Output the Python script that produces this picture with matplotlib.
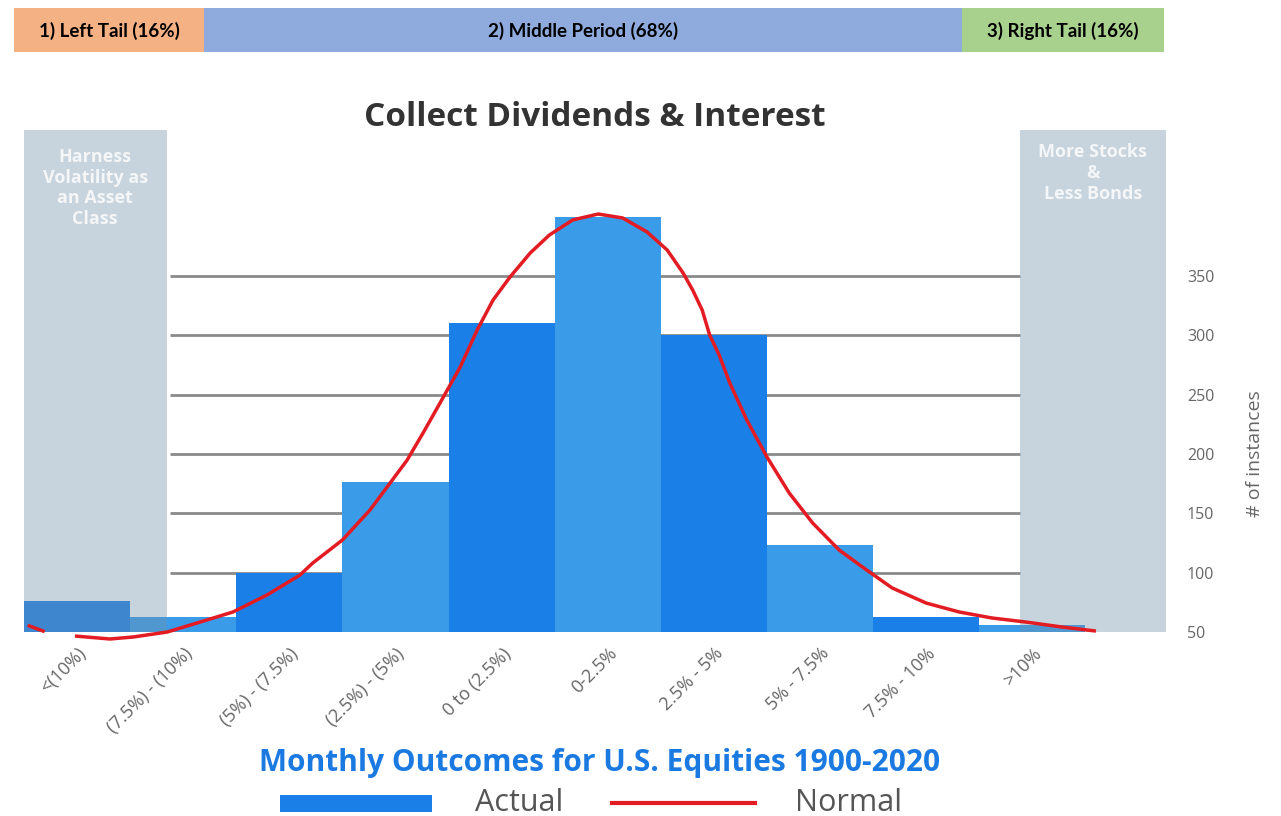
import matplotlib
matplotlib.use('Agg')
import matplotlib.pyplot as plt
from matplotlib.patches import Rectangle
from matplotlib.lines import Line2D
import numpy as np

# bucket labels and monthly counts
buckets = ['<(10%)', '(7.5%) - (10%)', '(5%) - (7.5%)', '(2.5%) - (5%)', '0 to (2.5%)',
           '0-2.5%', '2.5% - 5%', '5% - 7.5%', '7.5% - 10%', '>10%']
actual = [76, 63, 100, 176, 310, 400, 300, 123, 63, 56]

# hand-drawn "normal" curve, x in bucket units
normal_x = [-0.02, 0.31, 0.53, 0.85, 1.16, 1.47, 1.79, 2.10, 2.22, 2.50, 2.76, 2.95,
            3.11, 3.26, 3.42, 3.61, 3.77, 3.92, 4.08, 4.27, 4.45, 4.67, 4.91, 5.14,
            5.37, 5.56, 5.71, 5.80, 5.89, 5.96, 6.05, 6.15, 6.31, 6.50, 6.71, 6.93,
            7.18, 7.44, 7.68, 8.00, 8.31, 8.62, 8.94, 9.28, 9.60]
normal_y = [46.6, 44.1, 45.8, 50.0, 58.4, 66.9, 81.2, 98.0, 108.1, 127.5, 152.8, 175.6,
            194.9, 217.7, 243.0, 273.3, 304.5, 329.8, 349.2, 369.4, 384.5, 397.2, 402.2, 398.9,
            387.1, 371.9, 352.5, 338.2, 321.3, 300.3, 283.4, 259.8, 228.6, 197.5, 167.1, 141.9,
            119.1, 102.2, 87.1, 74.4, 66.9, 61.8, 58.4, 54.2, 50.8]
stub_x = [-0.45, -0.32]
stub_y = [55.1, 50.8]

yticks = [50, 100, 150, 200, 250, 300, 350]
banner = ['1) Left Tail (16%)', '2) Middle Period (68%)', '3) Right Tail (16%)']

dark_blue = '#1a7fe6'
light_blue = '#3a9be8'
red = '#e31b23'
W, H = 1281, 816

fig = plt.figure(figsize=(12.81, 8.16), dpi=100)
ax = fig.add_axes([24 / W, 1 - 632 / H, 1142 / W, 502 / H])

x = np.arange(len(buckets))
colors = [dark_blue if i % 2 == 0 else light_blue for i in range(len(buckets))]
ax.bar(x, actual, width=1.0, color=colors, zorder=2)

# gridlines only between the two grey panels
ax.hlines(yticks[1:], 0.875, 8.88, color='#8a8a8a', lw=2, zorder=1)

# grey tail panels laid over the bars
ax.axvspan(-0.5, 0.85, color='#7593aa', alpha=0.4, lw=0, zorder=3)
ax.axvspan(8.88, 10.26, color='#7593aa', alpha=0.4, lw=0, zorder=3)

ax.plot(normal_x, normal_y, color=red, lw=2.5, zorder=4, clip_on=False,
        solid_joinstyle='round', solid_capstyle='butt')
ax.plot(stub_x, stub_y, color=red, lw=2.5, zorder=4, clip_on=False)

ax.set_xlim(-0.5, 10.26)
ax.set_ylim(50, 473)
for s in ax.spines.values():
    s.set_visible(False)

ax.set_xticks(x)
ax.set_xticklabels(buckets, rotation=45, ha='right', rotation_mode='anchor',
                   color='#666666', fontsize=13, family='Open Sans')
ax.tick_params(axis='x', length=0, pad=9)

ax.yaxis.tick_right()
ax.set_yticks(yticks)
ax.set_yticklabels([str(v) for v in yticks], color='#666666', fontsize=11.5, family='Open Sans')
ax.tick_params(axis='y', length=0, pad=15)
ax.yaxis.set_label_position('right')
ax.set_ylabel('# of instances', color='#666666', fontsize=14, family='Open Sans')
ax.yaxis.set_label_coords(1.07, 0.355)

# panel captions
ax.text(0.17, 458, 'Harness\nVolatility as\nan Asset\nClass', ha='center', va='top',
        color='#f4f6f8', fontsize=13, fontweight='bold', family='Open Sans', linespacing=1.2,
        zorder=5)
ax.text(9.57, 462, 'More Stocks\n&\nLess Bonds', ha='center', va='top',
        color='#f4f6f8', fontsize=13, fontweight='bold', family='Open Sans', linespacing=1.2,
        zorder=5)

# top banner
edges = [14, 204, 962, 1164]
fills = ['#f4b183', '#8faadc', '#a9d18e']
for i, label in enumerate(banner):
    x0, x1 = edges[i] / W, edges[i + 1] / W
    fig.add_artist(Rectangle((x0, 1 - 52 / H), x1 - x0, 44 / H, transform=fig.transFigure,
                             color=fills[i], lw=0))
    fig.text((x0 + x1) / 2, 1 - 31 / H, label, ha='center', va='center', fontsize=13.5,
             fontweight='bold', family='Lato')

fig.text(595 / W, 1 - 117 / H, 'Collect Dividends & Interest', ha='center', va='center',
         fontsize=24, fontweight='bold', color='#333333', family='Open Sans')
fig.text(600 / W, 1 - 763 / H, 'Monthly Outcomes for U.S. Equities 1900-2020', ha='center',
         va='center', fontsize=21.5, fontweight='bold', color='#1a7ae2', family='Open Sans')

# legend
fig.add_artist(Rectangle((280 / W, 1 - 812 / H), 152 / W, 17 / H, transform=fig.transFigure,
                         color=dark_blue, lw=0))
fig.text(475 / W, 1 - 803 / H, 'Actual', ha='left', va='center', fontsize=22,
         color='#555555', family='Open Sans')
fig.add_artist(Line2D([612 / W, 755 / W], [1 - 803 / H, 1 - 803 / H], transform=fig.transFigure,
                      color=red, lw=3))
fig.text(795 / W, 1 - 803 / H, 'Normal', ha='left', va='center', fontsize=22,
         color='#555555', family='Open Sans')

fig.savefig('out.png', dpi=100)
